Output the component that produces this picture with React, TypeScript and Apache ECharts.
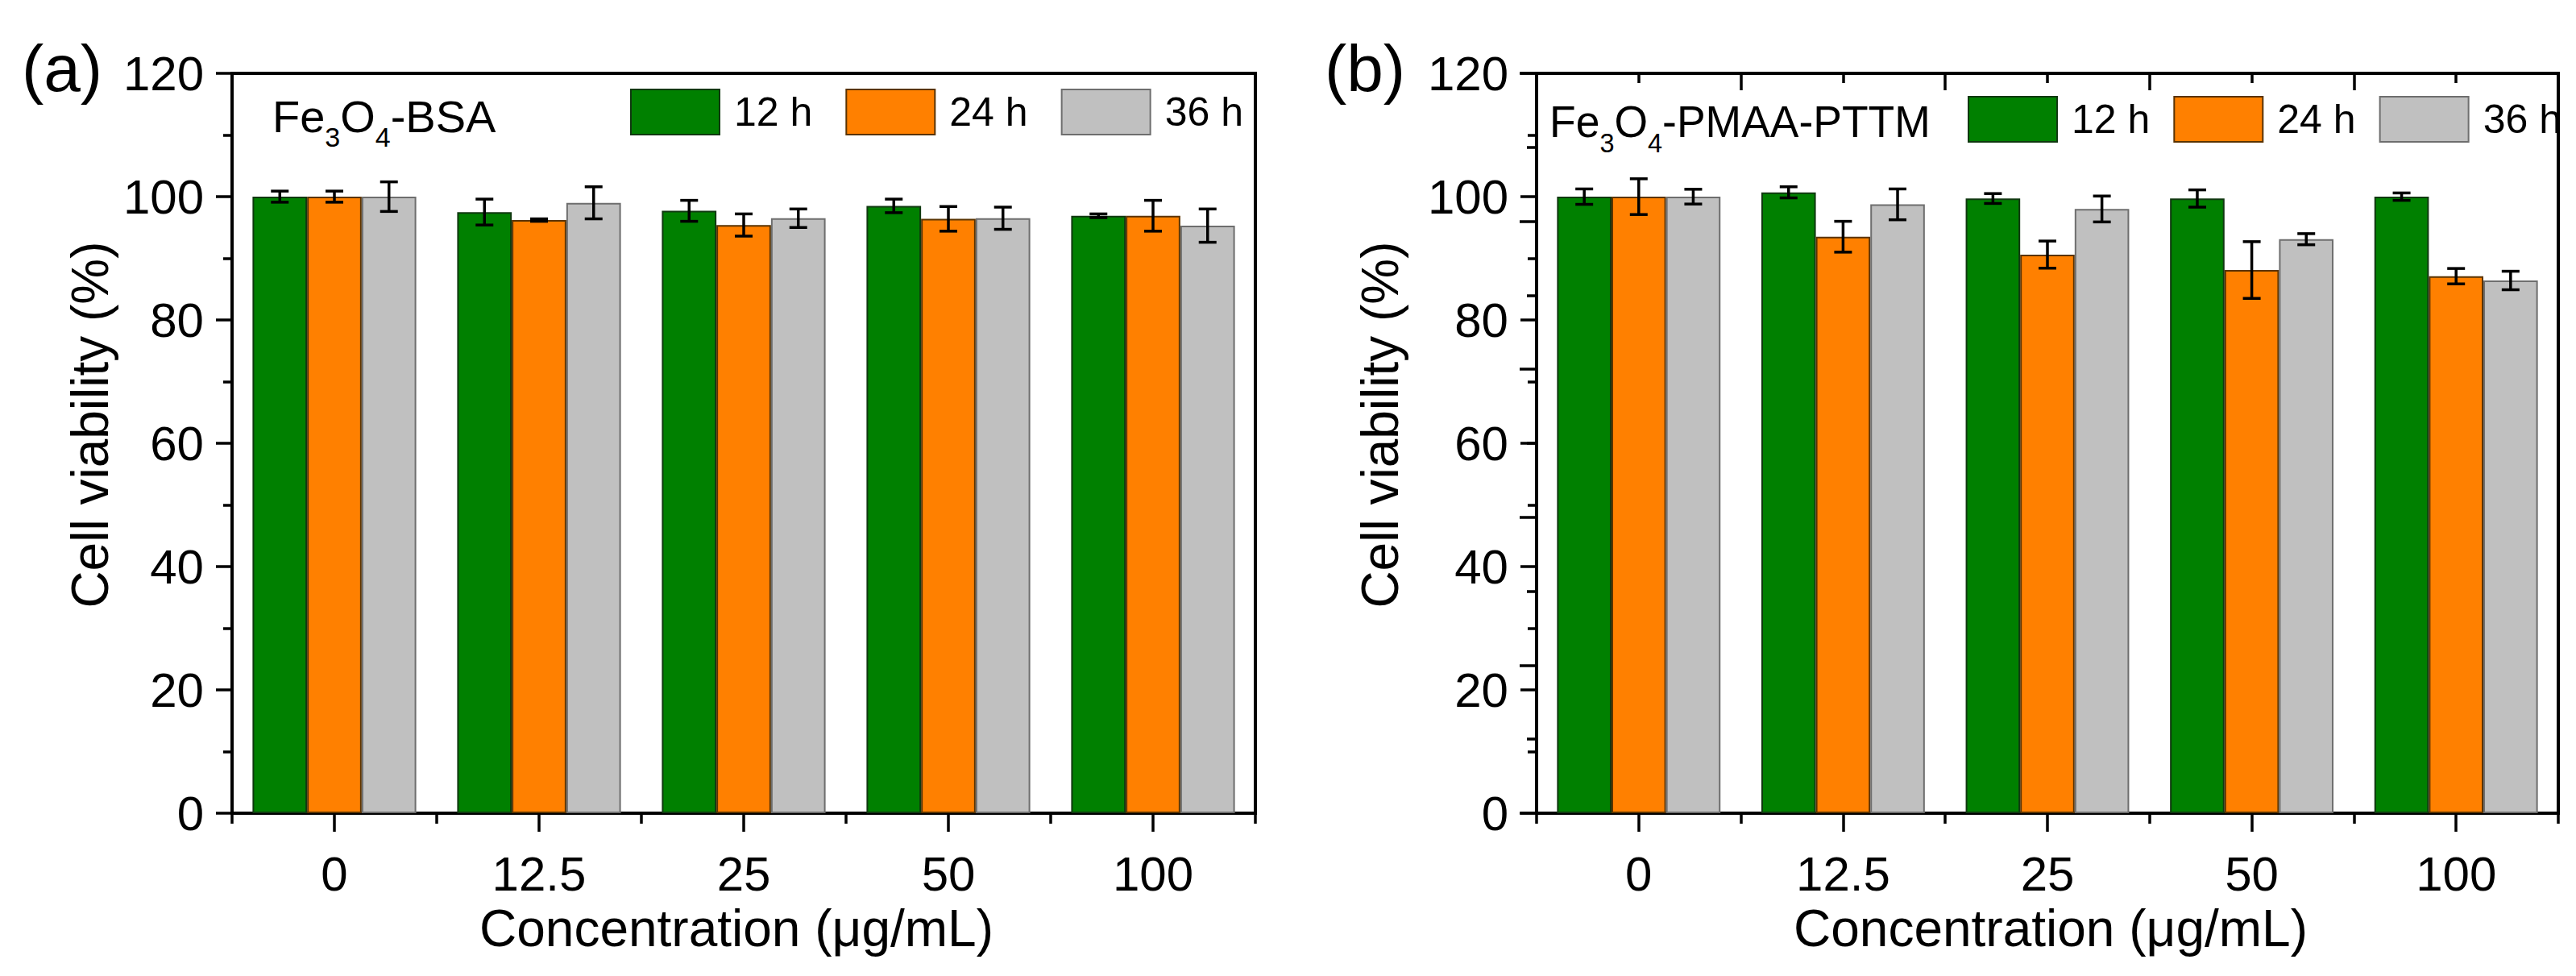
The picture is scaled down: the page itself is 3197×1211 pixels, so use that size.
import React, { useEffect, useRef } from 'react';
import * as echarts from 'echarts';

const categories = ['0', '12.5', '25', '50', '100'];
const seriesNames = ['12 h', '24 h', '36 h'];
const barColors = ['#008000', '#FF8000', '#C0C0C0'];
const barBorders = ['#103810', '#5a3300', '#6e6e6e'];

// Panel (a): Fe3O4-BSA
const bsa12 = [100, 97.5, 97.7, 98.5, 96.9];
const bsa12Err = [0.9, 2.1, 1.7, 1.1, 0.3];
const bsa24 = [100, 96.2, 95.4, 96.4, 96.9];
const bsa24Err = [0.9, 0.2, 1.8, 2.0, 2.5];
const bsa36 = [100, 99.0, 96.5, 96.5, 95.3];
const bsa36Err = [2.4, 2.6, 1.5, 1.8, 2.7];

// Panel (b): Fe3O4-PMAA-PTTM
const pttm12 = [100, 100.7, 99.7, 99.7, 100];
const pttm12Err = [1.25, 0.9, 0.8, 1.4, 0.6];
const pttm24 = [100, 93.5, 90.6, 88.1, 87.1];
const pttm24Err = [2.9, 2.5, 2.2, 4.6, 1.25];
const pttm36 = [100, 98.75, 98.0, 93.1, 86.4];
const pttm36Err = [1.2, 2.5, 2.1, 0.9, 1.5];

const yMin = 0;
const yMax = 120;
const yInterval = 20;

const FONT = "'Liberation Sans', Arial, Helvetica, sans-serif";

function barSeries(name: string, k: number, xi: number, yi: number, values: number[]) {
  return {
    type: 'bar',
    name,
    xAxisIndex: xi,
    yAxisIndex: yi,
    data: values,
    barGap: '0%',
    barCategoryGap: '20%',
    itemStyle: { color: barColors[k], borderColor: barBorders[k], borderWidth: 2 },
    z: 2,
  };
}

function errSeries(id: string, k: number, xi: number, yi: number, means: number[], errs: number[]) {
  return {
    type: 'custom',
    name: id,
    xAxisIndex: xi,
    yAxisIndex: yi,
    silent: true,
    z: 10,
    data: means.map((m, i) => [i, m - errs[i], m + errs[i]]),
    encode: { x: 0, y: [1, 2] },
    renderItem: (params: any, api: any) => {
      const i = api.value(0);
      const lo = api.coord([i, api.value(1)]);
      const hi = api.coord([i, api.value(2)]);
      const band = api.size([1, 0])[0];
      const bw = (band * 0.8) / 3;
      const x = lo[0] + (k - 1) * bw;
      const cap = 11;
      const st = { stroke: '#000', lineWidth: 3.5 };
      return {
        type: 'group',
        children: [
          { type: 'line', shape: { x1: x, y1: lo[1], x2: x, y2: hi[1] }, style: st },
          { type: 'line', shape: { x1: x - cap, y1: hi[1], x2: x + cap, y2: hi[1] }, style: st },
          { type: 'line', shape: { x1: x - cap, y1: lo[1], x2: x + cap, y2: lo[1] }, style: st },
        ],
      };
    },
  };
}

const axisLineStyle = { color: '#000', width: 4 };
const tickLine = { color: '#000', width: 3.5 };

function catAxis(gridIndex: number) {
  return {
    type: 'category',
    gridIndex,
    data: categories,
    position: 'bottom',
    axisLine: { show: true, lineStyle: axisLineStyle },
    axisTick: { show: true, alignWithLabel: true, length: 23, lineStyle: tickLine },
    axisLabel: { show: true, fontSize: 60, fontFamily: FONT, color: '#000', margin: 45 },
    splitLine: { show: false },
  };
}

function boundaryAxis(gridIndex: number) {
  return {
    type: 'value',
    gridIndex,
    position: 'bottom',
    min: 0,
    max: 5,
    interval: 1,
    axisLine: { show: false },
    axisTick: { show: true, length: 13, lineStyle: tickLine },
    axisLabel: { show: false },
    splitLine: { show: false },
  };
}

function leftAxis(gridIndex: number) {
  return {
    type: 'value',
    gridIndex,
    position: 'left',
    min: yMin,
    max: yMax,
    interval: yInterval,
    axisLine: { show: true, lineStyle: axisLineStyle },
    axisTick: { show: true, length: 20, lineStyle: tickLine },
    minorTick: { show: true, splitNumber: 2, length: 11, lineStyle: tickLine },
    axisLabel: { show: true, fontSize: 60, fontFamily: FONT, color: '#000', margin: 35 },
    splitLine: { show: false },
    minorSplitLine: { show: false },
  };
}

function subText(x: number, y: number, text: string, scaleX = 1) {
  return {
    type: 'text',
    x,
    y,
    scaleX,
    style: {
      text,
      rich: {
        n: { fontSize: 56, lineHeight: 56, fontFamily: FONT, fill: '#000', verticalAlign: 'top' },
        s: { fontSize: 34, lineHeight: 34, fontFamily: FONT, fill: '#000', verticalAlign: 'top', padding: [37, 0, 0, 0] },
      },
      align: 'left',
      textAlign: 'left',
      verticalAlign: 'top',
      textVerticalAlign: 'top',
    },
  };
}

function plainText(x: number, y: number, text: string, size: number, rotation = 0) {
  return {
    type: 'text',
    x,
    y,
    rotation,
    style: {
      text,
      fontSize: size,
      fontFamily: FONT,
      fill: '#000',
      align: 'center',
      textAlign: 'center',
      verticalAlign: 'middle',
      textVerticalAlign: 'middle',
    },
  };
}

function legendCfg(left: number, top: number, gap: number) {
  return {
    left,
    top,
    padding: 0,
    orient: 'horizontal',
    itemWidth: 110,
    itemHeight: 56,
    itemGap: gap,
    icon: 'rect',
    selectedMode: false,
    data: seriesNames,
    textStyle: { fontSize: 50, fontFamily: FONT, color: '#000', padding: [0, 0, 0, 13] },
  };
}

export default function App() {
  const ref = useRef<HTMLDivElement>(null);

  useEffect(() => {
    document.body.style.margin = '0';
    document.body.style.overflow = 'hidden';
    if (!ref.current) return;
    const chart = echarts.init(ref.current, undefined, { renderer: 'svg' });

    const gridTop = 91;
    const gridH = 918;

    const option: any = {
      animation: false,
      backgroundColor: '#fff',
      grid: [
        { left: 288, top: gridTop, width: 1270, height: gridH, show: true, borderColor: '#000', borderWidth: 4, containLabel: false },
        { left: 1907, top: gridTop, width: 1268, height: gridH, show: true, borderColor: '#000', borderWidth: 4, containLabel: false },
      ],
      xAxis: [
        catAxis(0),
        boundaryAxis(0),
        catAxis(1),
        boundaryAxis(1),
        {
          type: 'value',
          gridIndex: 1,
          position: 'top',
          min: 0,
          max: 5,
          interval: 1,
          axisLine: { show: true, lineStyle: axisLineStyle },
          axisTick: { show: true, inside: true, length: 21, lineStyle: tickLine },
          minorTick: { show: true, splitNumber: 2, length: 12, lineStyle: tickLine },
          axisLabel: { show: false },
          splitLine: { show: false },
          minorSplitLine: { show: false },
        },
      ],
      yAxis: [
        leftAxis(0),
        leftAxis(1),
        {
          type: 'value',
          gridIndex: 1,
          position: 'right',
          min: 0,
          max: 10,
          interval: 2,
          axisLine: { show: true, lineStyle: axisLineStyle },
          axisTick: { show: true, inside: true, length: 21, lineStyle: tickLine },
          minorTick: { show: true, splitNumber: 2, length: 12, lineStyle: tickLine },
          axisLabel: { show: false },
          splitLine: { show: false },
          minorSplitLine: { show: false },
        },
      ],
      legend: [legendCfg(782, 110, 41), legendCfg(2442, 119, 29)],
      series: [
        barSeries(seriesNames[0], 0, 0, 0, bsa12),
        barSeries(seriesNames[1], 1, 0, 0, bsa24),
        barSeries(seriesNames[2], 2, 0, 0, bsa36),
        barSeries(seriesNames[0], 0, 2, 1, pttm12),
        barSeries(seriesNames[1], 1, 2, 1, pttm24),
        barSeries(seriesNames[2], 2, 2, 1, pttm36),
        errSeries('errA12', 0, 0, 0, bsa12, bsa12Err),
        errSeries('errA24', 1, 0, 0, bsa24, bsa24Err),
        errSeries('errA36', 2, 0, 0, bsa36, bsa36Err),
        errSeries('errB12', 0, 2, 1, pttm12, pttm12Err),
        errSeries('errB24', 1, 2, 1, pttm24, pttm24Err),
        errSeries('errB36', 2, 2, 1, pttm36, pttm36Err),
      ],
      graphic: [
        plainText(77, 84, '(a)', 82),
        plainText(1694, 84, '(b)', 82),
        plainText(914, 1152, 'Concentration (μg/mL)', 64),
        plainText(2545, 1152, 'Concentration (μg/mL)', 64),
        plainText(112, 527, 'Cell viability (%)', 64, Math.PI / 2),
        plainText(1713, 527, 'Cell viability (%)', 64, Math.PI / 2),
        subText(338, 116, '{n|Fe}{s|3}{n|O}{s|4}{n|-BSA}'),
        subText(1923, 123, '{n|Fe}{s|3}{n|O}{s|4}{n|-PMAA-PTTM}', 0.955),
      ],
    };

    chart.setOption(option);
    return () => {
      chart.dispose();
    };
  }, []);

  return <div ref={ref} style={{ width: 3197, height: 1211 }} />;
}
